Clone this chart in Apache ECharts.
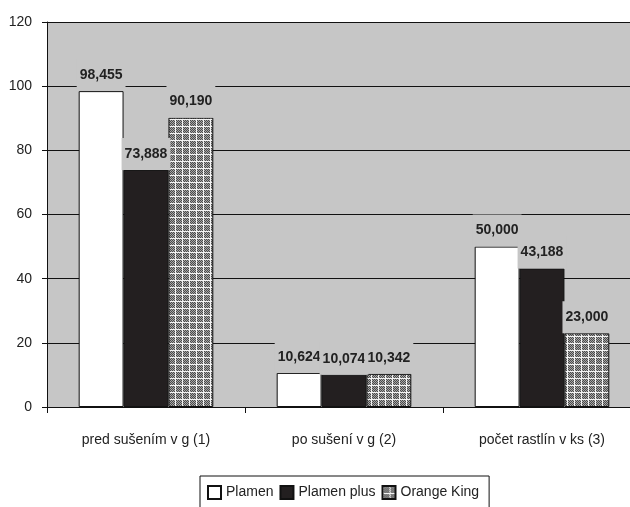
<!DOCTYPE html>
<html>
<head>
<meta charset="utf-8">
<script src="https://cdn.jsdelivr.net/npm/echarts@6/dist/echarts.min.js"></script>
<style>
  html, body { margin: 0; padding: 0; background: #ffffff; overflow: hidden; }
  #chart { width: 630px; height: 507px; }
</style>
</head>
<body>
<div id="chart"></div>
<script>
// Categories and series values
var categories = ['pred sušením v g (1)', 'po sušení v g (2)', 'počet rastlín v ks (3)'];
var seriesNames = ['Plamen', 'Plamen plus', 'Orange King'];
var plamen = [98.455, 10.624, 50.000];
var plamenPlus = [73.888, 10.074, 43.188];
var orangeKing = [90.190, 10.342, 23.000];
var yTicks = { min: 0, max: 120, interval: 20 };

var FONT = '"Liberation Sans", Arial, sans-serif';
var PLOT_BG = '#c6c6c6';

// Dotted grey tile with a light grid, used as fill for the third series
function makePattern() {
  var c = document.createElement('canvas');
  c.width = 7; c.height = 7;
  var g = c.getContext('2d');
  g.fillStyle = '#a8a8a8';
  g.fillRect(0, 0, 7, 7);
  g.fillStyle = '#4a4a4a';
  for (var y = 1; y < 7; y++) {
    for (var x = 1; x < 7; x++) {
      if ((x + y) % 2 === 0) g.fillRect(x, y, 1, 1);
    }
  }
  g.fillStyle = '#f4f4f4';
  g.fillRect(0, 0, 7, 1);
  g.fillRect(0, 0, 1, 7);
  return c;
}

function fmt(v) {
  return v.toFixed(3).replace('.', ',');
}

var labelStyle = {
  show: true,
  position: 'top',
  distance: 0,
  padding: [9, 3, 9, 3],
  backgroundColor: PLOT_BG,
  fontFamily: FONT,
  fontSize: 14,
  fontWeight: 'bold',
  color: '#222',
  formatter: function (p) { return fmt(p.value); }
};

function barSeries(name, data, fill) {
  return {
    name: name,
    type: 'bar',
    data: data,
    barGap: '0%',
    barCategoryGap: '32%',
    itemStyle: { color: fill, borderColor: '#111', borderWidth: 1 },
    label: labelStyle,
    labelLayout: { hideOverlap: false },
    emphasis: { disabled: true }
  };
}

var chart = echarts.init(document.getElementById('chart'), null, { renderer: 'canvas' });

chart.setOption({
  animation: false,
  backgroundColor: '#ffffff',
  grid: {
    left: 47, top: 22, right: -11, bottom: 100,
    outerBoundsMode: 'none',
    containLabel: false,
    show: true, backgroundColor: PLOT_BG, borderWidth: 0
  },
  legend: {
    data: seriesNames,
    left: 200,
    top: 476,
    orient: 'horizontal',
    icon: 'rect',
    itemWidth: 13,
    itemHeight: 13,
    itemGap: 6,
    padding: [9, 10, 9, 7],
    borderColor: '#111',
    borderWidth: 1,
    backgroundColor: '#ffffff',
    textStyle: { fontFamily: FONT, fontSize: 14, color: '#222' }
  },
  xAxis: {
    type: 'category',
    data: categories,
    axisLine: { show: true, lineStyle: { color: '#111', width: 1 } },
    axisTick: { show: true, length: 6, alignWithLabel: false, lineStyle: { color: '#111' } },
    axisLabel: { fontFamily: FONT, fontSize: 14, color: '#222', margin: 26 },
    splitLine: { show: false }
  },
  yAxis: {
    type: 'value',
    min: yTicks.min,
    max: yTicks.max,
    interval: yTicks.interval,
    axisLine: { show: true, lineStyle: { color: '#111', width: 1 } },
    axisTick: { show: true, length: 5, lineStyle: { color: '#111' } },
    axisLabel: { fontFamily: FONT, fontSize: 14, color: '#222', margin: 15 },
    splitLine: { show: true, lineStyle: { color: '#111', width: 1 } }
  },
  series: [
    barSeries(seriesNames[0], plamen, '#ffffff'),
    barSeries(seriesNames[1], plamenPlus, '#231f20'),
    barSeries(seriesNames[2], orangeKing, { image: makePattern(), repeat: 'repeat' })
  ]
});
</script>
</body>
</html>
